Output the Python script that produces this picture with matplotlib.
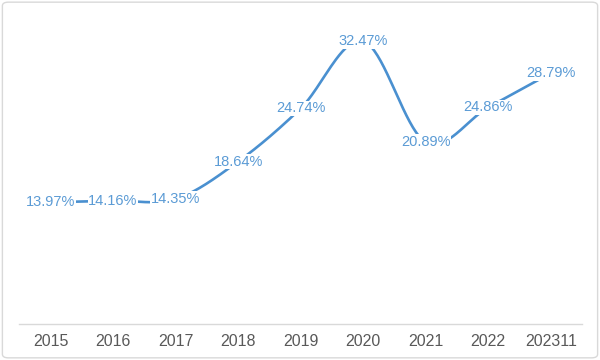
import numpy as np
import matplotlib.pyplot as plt
from matplotlib.patches import FancyBboxPatch

# Data
categories = ['2015', '2016', '2017', '2018', '2019', '2020', '2021', '2022', '202311']
values = [13.97, 14.16, 14.35, 18.64, 24.74, 32.47, 20.89, 24.86, 28.79]
labels = ['13.97%', '14.16%', '14.35%', '18.64%', '24.74%', '32.47%', '20.89%', '24.86%', '28.79%']


def smooth_curve(x, y, n=40):
    # Excel-style smoothed line (cardinal/Catmull-Rom bezier)
    x = np.asarray(x, float)
    y = np.asarray(y, float)
    xs, ys = [], []
    for i in range(len(x) - 1):
        p0 = (x[max(i - 1, 0)], y[max(i - 1, 0)])
        p1 = (x[i], y[i])
        p2 = (x[i + 1], y[i + 1])
        p3 = (x[min(i + 2, len(x) - 1)], y[min(i + 2, len(x) - 1)])
        c1 = (p1[0] + (p2[0] - p0[0]) / 6, p1[1] + (p2[1] - p0[1]) / 6)
        c2 = (p2[0] - (p3[0] - p1[0]) / 6, p2[1] - (p3[1] - p1[1]) / 6)
        t = np.linspace(0, 1, n)
        bx = (1 - t)**3 * p1[0] + 3 * (1 - t)**2 * t * c1[0] + 3 * (1 - t) * t**2 * c2[0] + t**3 * p2[0]
        by = (1 - t)**3 * p1[1] + 3 * (1 - t)**2 * t * c1[1] + 3 * (1 - t) * t**2 * c2[1] + t**3 * p2[1]
        xs.extend(bx)
        ys.extend(by)
    return np.array(xs), np.array(ys)


fig = plt.figure(figsize=(6, 3.6), dpi=100)
ax = fig.add_axes([0.032, 0.1, 0.938, 0.847])

x = np.arange(len(categories))
sx, sy = smooth_curve(x, values)
ax.plot(sx, sy, color='#4A90D0', linewidth=1.9, solid_capstyle='round', zorder=2)

for xi, v, lab in zip(x, values, labels):
    ax.text(xi, v, lab, ha='center', va='center', fontsize=10.5, color='#5B9BD5',
            family='Liberation Sans',
            bbox=dict(boxstyle='square,pad=0.05', fc='white', ec='none'), zorder=3)

ax.set_xlim(-0.5, len(categories) - 0.5)
ax.set_ylim(0, 35)
ax.set_xticks(x)
ax.set_xticklabels(categories, fontsize=11.5, color='#595959',
                   family=['Liberation Sans Narrow', 'Liberation Sans'])
ax.set_yticks([])
for s in ['top', 'right', 'left']:
    ax.spines[s].set_visible(False)
ax.spines['bottom'].set_color('#D9D9D9')
ax.spines['bottom'].set_linewidth(1)
ax.tick_params(axis='x', length=0, pad=7)

border = FancyBboxPatch((0.004, 0.006), 0.992, 0.988, boxstyle='round,pad=0,rounding_size=0.01',
                        transform=fig.transFigure, fc='none', ec='#D9D9D9', lw=1)
fig.patches.append(border)

fig.savefig('out.png', dpi=100)
